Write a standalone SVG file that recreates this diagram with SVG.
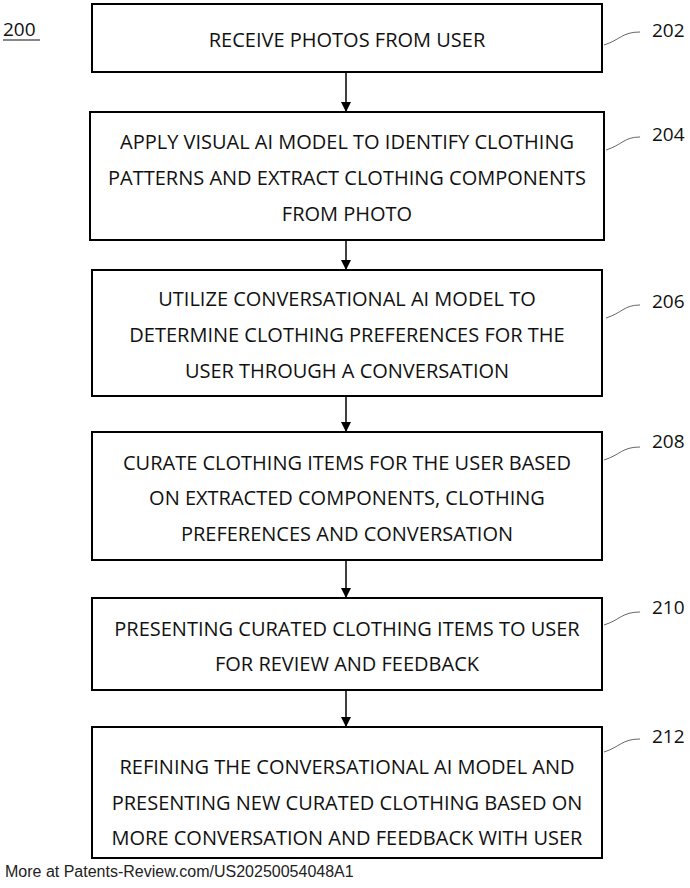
<svg xmlns="http://www.w3.org/2000/svg" width="690" height="888" viewBox="0 0 690 888">
<defs>
<style>
.b{fill:#fff;stroke:#000;stroke-width:2}
.t{font-family:"Open Sans","Liberation Sans",sans-serif;font-size:20px;text-anchor:middle;fill:#111}
.l{font-family:"Open Sans","Liberation Sans",sans-serif;font-size:19px;fill:#111}
.c{fill:none;stroke:#000;stroke-width:1.5}
.ld{fill:none;stroke:#666;stroke-width:1}
</style>
<marker id="a" markerWidth="10" markerHeight="10" refX="9" refY="5" orient="auto" markerUnits="userSpaceOnUse"><path d="M0,0 L10,5 L0,10 z" fill="#000"/></marker>
</defs>
<rect width="690" height="888" fill="#fff"/>
<text class="l" x="3" y="36">200</text>
<line x1="3" y1="40" x2="40" y2="40" stroke="#111" stroke-width="1.2"/>
<g id="connectors">
<line class="c" x1="346" y1="72" x2="346" y2="111" marker-end="url(#a)"/>
<line class="c" x1="346" y1="240" x2="346" y2="269" marker-end="url(#a)"/>
<line class="c" x1="346" y1="396" x2="346" y2="431" marker-end="url(#a)"/>
<line class="c" x1="346" y1="560" x2="346" y2="597" marker-end="url(#a)"/>
<line class="c" x1="346" y1="690" x2="346" y2="726" marker-end="url(#a)"/>
<path class="ld" d="M604,45 C620,40 622,32 640,32"/>
<path class="ld" d="M606,150 C622,145 624,137 640,137"/>
<path class="ld" d="M606,318 C622,313 624,305 640,305"/>
<path class="ld" d="M604,460 C620,455 622,447 640,447"/>
<path class="ld" d="M604,625 C620,620 622,612 640,612"/>
<path class="ld" d="M604,752 C620,747 622,739 640,739"/>
</g>
<g id="n202"><rect class="b" x="92" y="4" width="510" height="68"/><text class="t" x="347" y="47">RECEIVE PHOTOS FROM USER</text><text class="l" x="652" y="37">202</text></g>
<g id="n204"><rect class="b" x="90" y="112" width="514" height="128"/><text class="t" x="347" y="149">APPLY VISUAL AI MODEL TO IDENTIFY CLOTHING</text><text class="t" x="347" y="185">PATTERNS AND EXTRACT CLOTHING COMPONENTS</text><text class="t" x="347" y="221">FROM PHOTO</text><text class="l" x="652" y="141">204</text></g>
<g id="n206"><rect class="b" x="92" y="270" width="510" height="126"/><text class="t" x="347" y="306">UTILIZE CONVERSATIONAL AI MODEL TO</text><text class="t" x="347" y="342">DETERMINE CLOTHING PREFERENCES FOR THE</text><text class="t" x="347" y="378">USER THROUGH A CONVERSATION</text><text class="l" x="652" y="308">206</text></g>
<g id="n208"><rect class="b" x="92" y="432" width="510" height="128"/><text class="t" x="347" y="470">CURATE CLOTHING ITEMS FOR THE USER BASED</text><text class="t" x="347" y="505">ON EXTRACTED COMPONENTS, CLOTHING</text><text class="t" x="347" y="541">PREFERENCES AND CONVERSATION</text><text class="l" x="652" y="448">208</text></g>
<g id="n210"><rect class="b" x="92" y="598" width="510" height="92"/><text class="t" x="347" y="636">PRESENTING CURATED CLOTHING ITEMS TO USER</text><text class="t" x="347" y="671">FOR REVIEW AND FEEDBACK</text><text class="l" x="652" y="614">210</text></g>
<g id="n212"><rect class="b" x="92" y="727" width="510" height="131"/><text class="t" x="347" y="774">REFINING THE CONVERSATIONAL AI MODEL AND</text><text class="t" x="347" y="810">PRESENTING NEW CURATED CLOTHING BASED ON</text><text class="t" x="347" y="845">MORE CONVERSATION AND FEEDBACK WITH USER</text><text class="l" x="652" y="743">212</text></g>
<text x="5" y="877" font-family="Liberation Sans,Arial,sans-serif" font-size="16" fill="#222">More at Patents-Review.com/US20250054048A1</text>
</svg>
